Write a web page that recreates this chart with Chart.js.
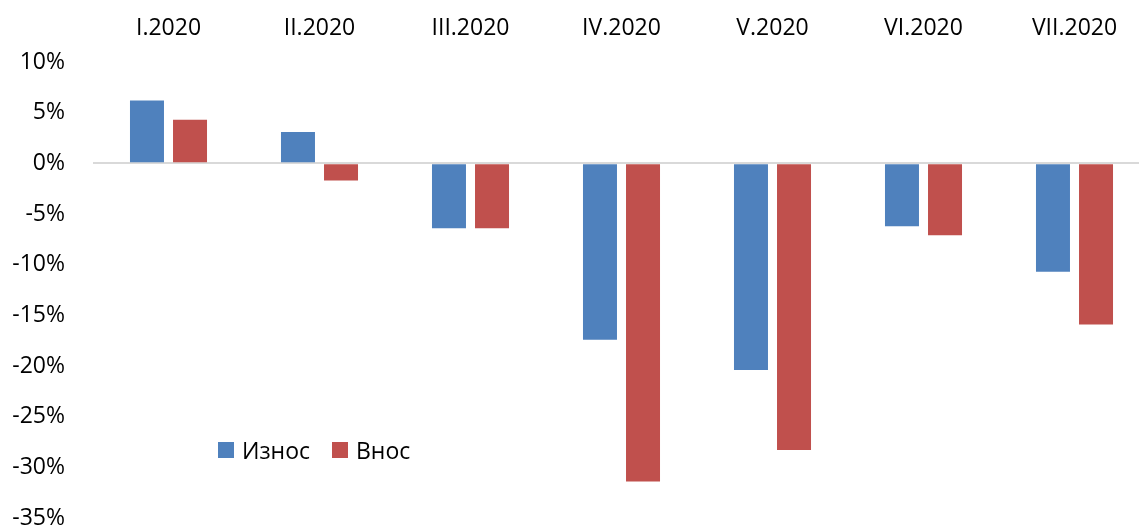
<!DOCTYPE html>
<html lang="sr">

<head>
  <meta charset="UTF-8">
  <title>Износ и внос</title>
  <style>
    html, body { margin: 0; padding: 0; background: #fff; overflow: hidden; }
    #wrap { position: relative; width: 1160px; height: 527px; }
    #myChart { display: block; }
    #legend { position: absolute; left: 218px; top: 434px; display: flex; font-family: "Open Sans", sans-serif; font-size: 23px; color: #000; }
    #legend .item { display: flex; align-items: center; margin-right: 22px; }
    #legend .box { width: 16px; height: 16px; margin-right: 8px; }
  </style>
</head>

<body>
  <div id="wrap">
    <canvas id="myChart" width="1160" height="527"></canvas>
    <div id="legend"></div>
  </div>

  <script src="https://cdn.jsdelivr.net/npm/chart.js"></script>

  <script>
    const months = ['I.2020', 'II.2020', 'III.2020', 'IV.2020', 'V.2020', 'VI.2020', 'VII.2020']
    const seriesNames = ['Износ', 'Внос']
    const izvoz = [6.2, 3.1, -6.4, -17.4, -20.4, -6.2, -10.7]
    const uvoz = [4.3, -1.7, -6.4, -31.4, -28.3, -7.1, -15.9]
    const colors = ['#4f81bd', '#c0504d']

    const font = { family: '"Open Sans", sans-serif', size: 23 }

    const ctx = document.getElementById('myChart')

    new Chart(ctx, {
      type: 'bar',
      data: {
        labels: months,
        datasets: [
          { label: seriesNames[0], data: izvoz, backgroundColor: colors[0] },
          { label: seriesNames[1], data: uvoz, backgroundColor: colors[1] }
        ]
      },
      options: {
        responsive: false,
        animation: false,
        layout: { padding: { right: 10, bottom: 9 } },
        datasets: { bar: { categoryPercentage: 0.57, barPercentage: 0.79 } },
        plugins: { legend: { display: false }, tooltip: { enabled: false } },
        scales: {
          x: {
            position: 'top',
            grid: { display: false },
            border: { display: false },
            ticks: { color: '#000', font: font, padding: 12, maxRotation: 0, autoSkip: false },
            afterFit: (s) => { s.height = 62 }
          },
          y: {
            min: -35,
            max: 10,
            grid: {
              drawTicks: false,
              color: (c) => c.tick && c.tick.value === 0 ? '#d9d9d9' : 'transparent',
              lineWidth: 2
            },
            border: { display: false },
            ticks: {
              stepSize: 5,
              color: '#000',
              font: font,
              padding: 28,
              callback: (v) => v + '%'
            },
            afterFit: (s) => {
              s.width = 93
              s.paddingTop = 0
              s.paddingBottom = 0
            }
          }
        }
      }
    })

    // legend inside the plot, like the original
    const legend = document.getElementById('legend')
    seriesNames.forEach((name, i) => {
      const item = document.createElement('div')
      item.className = 'item'
      item.innerHTML = '<span class="box" style="background:' + colors[i] + '"></span>' + name
      legend.appendChild(item)
    })
  </script>
</body>

</html>
